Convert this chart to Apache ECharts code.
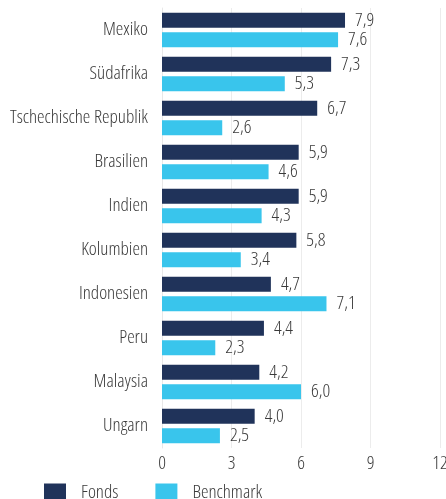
<!DOCTYPE html>
<html>
<head>
<meta charset="utf-8">
<script src="https://cdn.jsdelivr.net/npm/echarts@6/dist/echarts.min.js"></script>
<style>
  html, body { margin: 0; padding: 0; background: #fff; }
  #chart { width: 446px; height: 499px; }
</style>
</head>
<body>
<div id="chart"></div>
<script>
const countries = ["Mexiko", "Südafrika", "Tschechische Republik", "Brasilien", "Indien",
  "Kolumbien", "Indonesien", "Peru", "Malaysia", "Ungarn"];
const fonds = [7.9, 7.3, 6.7, 5.9, 5.9, 5.8, 4.7, 4.4, 4.2, 4.0];
const benchmark = [7.6, 5.3, 2.6, 4.6, 4.3, 3.4, 7.1, 2.3, 6.0, 2.5];
const xTicks = [0, 3, 6, 9, 12];

// Open Sans in its condensed light cut, the closest thing we have to the original face
const txt = {
  fontFamily: "'Open Sans'",
  fontStyle: "condensed",
  fontWeight: 300,
  color: "#3a3a3a",
};

const fmt = (v) => v.toFixed(1).replace(".", ",");

const chart = echarts.init(document.getElementById("chart"));

const barLabel = {
  show: true,
  position: "right",
  distance: 10,
  ...txt,
  fontSize: 19,
  formatter: (p) => fmt(p.value),
};

chart.setOption({
  animation: false,
  grid: {
    left: 162,
    right: 6,
    top: 8,
    height: 440,
    containLabel: false,
    outerBoundsMode: "none",
  },
  legend: {
    left: 44,
    top: 483,
    padding: 0,
    itemWidth: 22,
    itemHeight: 18,
    itemGap: 37,
    icon: "rect",
    textStyle: { ...txt, fontSize: 19, padding: [0, 0, 0, 10] },
    data: ["Fonds", "Benchmark"],
  },
  xAxis: {
    type: "value",
    min: xTicks[0],
    max: xTicks[xTicks.length - 1],
    interval: 3,
    axisLine: { show: false },
    axisTick: { show: false },
    splitLine: { show: true, lineStyle: { color: "#ececec", width: 1 } },
    axisLabel: { ...txt, fontSize: 19, margin: 6 },
  },
  yAxis: {
    type: "category",
    inverse: true,
    data: countries,
    axisLine: { show: true, lineStyle: { color: "#e8e8e8" } },
    axisTick: { show: false },
    axisLabel: { ...txt, fontSize: 19, margin: 14 },
  },
  series: [
    {
      name: "Fonds",
      type: "bar",
      data: fonds,
      barWidth: 15,
      barGap: "30%",
      itemStyle: { color: "#20335a" },
      label: barLabel,
    },
    {
      name: "Benchmark",
      type: "bar",
      data: benchmark,
      barWidth: 15,
      barGap: "30%",
      itemStyle: { color: "#39c5ec" },
      label: barLabel,
    },
  ],
});
</script>
</body>
</html>
